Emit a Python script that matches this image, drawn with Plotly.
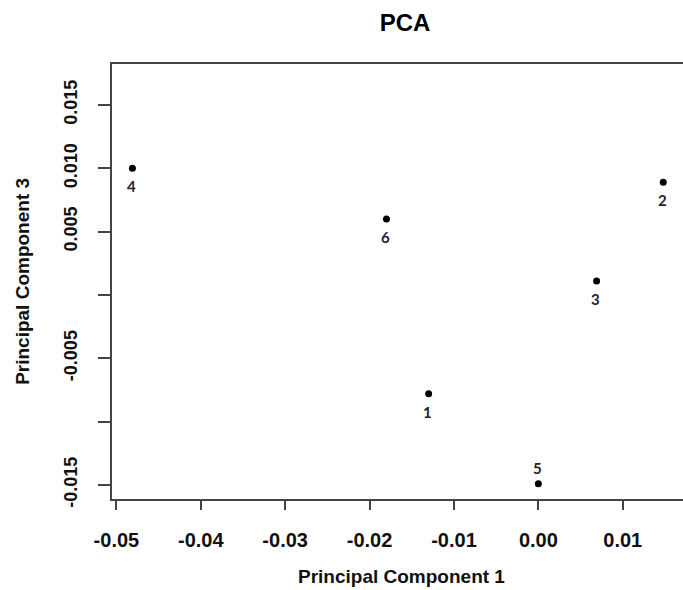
import plotly.graph_objects as go

# Data
samples = ["1", "2", "3", "4", "5", "6"]
pc1 = [-0.0130, 0.0148, 0.0069, -0.0481, 0.0000, -0.0180]
pc3 = [-0.0078, 0.0089, 0.0011, 0.0100, -0.0149, 0.0060]
label_side = ["below", "below", "below", "below", "above", "below"]

x_tickvals = [-0.05, -0.04, -0.03, -0.02, -0.01, 0.00, 0.01]
x_ticktext = ["-0.05", "-0.04", "-0.03", "-0.02", "-0.01", "0.00", "0.01"]
y_tickvals = [-0.015, -0.010, -0.005, 0.000, 0.005, 0.010, 0.015]
y_ticktext = ["-0.015", "", "-0.005", "", "0.005", "0.010", "0.015"]

FONT = "Liberation Sans, Arial, Helvetica, sans-serif"

fig = go.Figure()
fig.add_trace(go.Scatter(
    x=pc1, y=pc3, mode="markers",
    marker=dict(color="black", size=7),
    hoverinfo="skip", showlegend=False,
))

annotations = []
for s, x, y, side in zip(samples, pc1, pc3, label_side):
    annotations.append(dict(
        x=x, y=y, xref="x", yref="y", text=s, showarrow=False,
        xanchor="center", yanchor="middle",
        yshift=-18 if side == "below" else 16, xshift=-1,
        font=dict(family="Lato, Open Sans, sans-serif", size=15, color="#222233",
                  weight="bold"),
    ))

annotations.append(dict(
    text="Principal Component 1", xref="paper", yref="paper",
    x=0.507, y=-0.179, xanchor="center", yanchor="middle", showarrow=False,
    font=dict(family=FONT, size=19, color="#111111", weight="bold"),
))
annotations.append(dict(
    text="Principal Component 3", xref="paper", yref="paper",
    x=-0.157, y=0.50, xanchor="center", yanchor="middle", showarrow=False,
    textangle=-90,
    font=dict(family=FONT, size=19, color="#111111", weight="bold"),
))

fig.update_layout(
    width=683, height=590,
    margin=dict(l=112, r=0, t=64, b=91, pad=0),
    paper_bgcolor="white", plot_bgcolor="white",
    title=dict(text="PCA", x=0.593, y=1 - 23 / 590, xref="container", yref="container",
               xanchor="center", yanchor="middle",
               font=dict(family=FONT, size=24, color="black", weight="bold")),
    annotations=annotations,
    xaxis=dict(
        range=[-0.05052, 0.01714], tickvals=x_tickvals, ticktext=x_ticktext,
        showgrid=False, zeroline=False,
        showline=True, linecolor="#444444", linewidth=2, mirror=True,
        ticks="outside", ticklen=9, tickwidth=2, tickcolor="#444444",
        ticklabelstandoff=13,
        tickfont=dict(family=FONT, size=20, color="#111111", weight="bold"),
    ),
    yaxis=dict(
        range=[-0.01611, 0.01824], tickvals=y_tickvals, ticktext=y_ticktext,
        showgrid=False, zeroline=False,
        showline=True, linecolor="#444444", linewidth=2, mirror=False,
        ticks="outside", ticklen=12, tickwidth=2, tickcolor="#444444",
        tickangle=-90, ticklabelstandoff=14,
        tickfont=dict(family=FONT, size=18, color="#111111", weight="bold"),
    ),
)

fig.write_html("out.html")
